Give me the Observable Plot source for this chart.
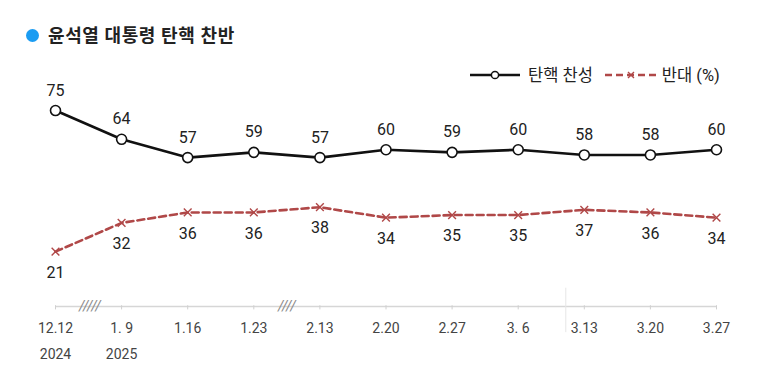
<!DOCTYPE html>
<html><head><meta charset="utf-8">
<script src="https://cdn.jsdelivr.net/npm/d3@7"></script>
<script src="https://cdn.jsdelivr.net/npm/@observablehq/plot@0.6"></script>
<style>
body{margin:0;background:#fff;font-family:Roboto,"Noto Sans CJK KR",sans-serif;}
#wrap{position:relative;width:766px;height:378px;overflow:hidden;}
#title{height:50px;box-sizing:border-box;padding-top:21px;padding-left:26px;font-size:18px;font-weight:bold;color:#222;line-height:22px;display:flex;align-items:center;gap:9px;letter-spacing:0.6px;}
#title .dot{width:13px;height:13px;border-radius:50%;background:#1b9cf2;display:inline-block;}
#legend{position:absolute;left:468px;top:62px;display:flex;align-items:center;font-size:16.5px;color:#222;}
#legend svg{display:block}
</style></head>
<body><div id="wrap">
<div id="title"><span class="dot"></span><span>윤석열 대통령 탄핵 찬반</span></div>
<div id="legend"></div>
<div id="chart"></div>
</div>
<script>
const dates = ["12.12","1. 9","1.16","1.23","2.13","2.20","2.27","3. 6","3.13","3.20","3.27"];
const years = ["2024","2025"];
const approve = [75,64,57,59,57,60,59,60,58,58,60];
const oppose = [21,32,36,36,38,34,35,35,37,36,34];
const seriesNames = ["탄핵 찬성","반대 (%)"];
const breaks = [0.52, 3.5];
const breakMarks = ["/////","////"];
const separator = [7.72];

const black = "#111", red = "#b04848";
const data = dates.map((d,i)=>({i, d, approve: approve[i], oppose: oppose[i]}));
const yearData = years.map((y,i)=>({i, y}));
const breakData = breaks.map((b,k)=>({x:b, t:breakMarks[k]}));

const chart = Plot.plot({
  width: 766, height: 328,
  marginLeft: 55, marginRight: 50, marginTop: 47, marginBottom: 72,
  x: {domain:[0, dates.length-1], axis:null},
  y: {domain:[0,80], axis:null},
  style: {fontFamily: 'Roboto,"Noto Sans CJK KR",sans-serif', background:"#fff"},
  marks: [
    Plot.ruleY([0], {stroke:"#d6d6d6", strokeWidth:1.5}),
    Plot.ruleX(data, {x:"i", y1:-1.3, y2:0.3, stroke:"#d0d0d0", strokeWidth:1}),
    Plot.ruleX(separator, {x:d=>d, y1:-10, y2:7, stroke:"#e6e6e6", strokeWidth:1}),
    Plot.text(breakData, {x:"x", y:0, text:"t", fontSize:14, fontStyle:"italic", fill:"#888", letterSpacing:"-0.5px"}),
    Plot.line(data, {x:"i", y:"approve", stroke:black, strokeWidth:2.6}),
    Plot.line(data, {x:"i", y:"oppose", stroke:red, strokeWidth:2.6, strokeDasharray:"7,4"}),
    Plot.dot(data, {x:"i", y:"approve", r:5, fill:"#fff", stroke:black, strokeWidth:1.6}),
    Plot.dot(data, {x:"i", y:"oppose", symbol:"times", r:3.6, stroke:red, strokeWidth:1.4}),
    Plot.text(data, {x:"i", y:"approve", text:d=>String(d.approve), dy:-20, fontSize:16, fill:"#222"}),
    Plot.text(data, {x:"i", y:"oppose", text:d=>String(d.oppose), dy:21, fontSize:16, fill:"#222"}),
    Plot.text(data, {x:"i", y:0, text:"d", dy:22, fontSize:14, fill:"#444"}),
    Plot.text(yearData, {x:"i", y:0, text:"y", dy:48, fontSize:14, fill:"#444"})
  ]
});
document.getElementById("chart").appendChild(chart);

const lg = document.getElementById("legend");
lg.innerHTML = `
<svg width="54" height="20"><line x1="2" x2="52" y1="11" y2="11" stroke="${black}" stroke-width="2.4"/><circle cx="27" cy="11" r="3.6" fill="#fff" stroke="${black}" stroke-width="1.5"/></svg>
<span style="margin-left:6px">${seriesNames[0]}</span>
<svg width="56" height="20" style="margin-left:10px"><line x1="2" x2="54" y1="11" y2="11" stroke="${red}" stroke-width="2.4" stroke-dasharray="7,4"/><path d="M25,8L31,14M31,8L25,14" stroke="${red}" stroke-width="1.4"/></svg>
<span style="margin-left:3px">${seriesNames[1]}</span>`;
</script>
</body></html>
